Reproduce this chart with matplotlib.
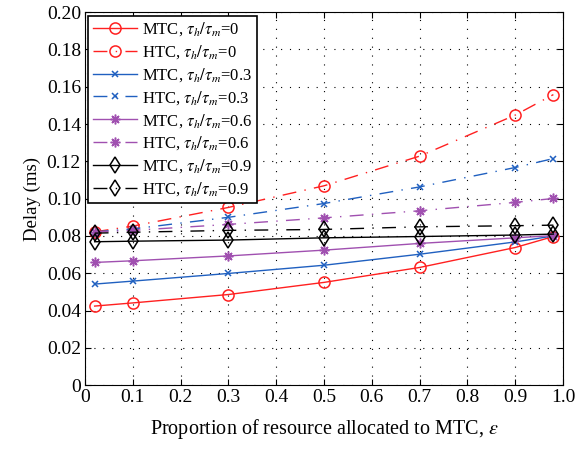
import matplotlib
matplotlib.use('Agg')
from matplotlib import pyplot as plt

plt.rcParams['font.family'] = ['Liberation Serif', 'DejaVu Serif']
plt.rcParams['mathtext.fontset'] = 'stix'

eps = [0.02, 0.1, 0.3, 0.5, 0.7, 0.9, 0.98]

mtc_0 = [0.0424, 0.0441, 0.0486, 0.0551, 0.0631, 0.0738, 0.0797]
htc_0 = [0.0822, 0.0853, 0.0953, 0.1069, 0.1228, 0.1448, 0.1558]
mtc_3 = [0.0542, 0.0558, 0.0599, 0.0643, 0.0702, 0.0768, 0.0800]
htc_3 = [0.0822, 0.0838, 0.0900, 0.0974, 0.1063, 0.1167, 0.1215]
mtc_6 = [0.0658, 0.0667, 0.0693, 0.0724, 0.0760, 0.0790, 0.0802]
htc_6 = [0.0822, 0.0830, 0.0862, 0.0897, 0.0935, 0.0980, 0.1001]
mtc_9 = [0.0769, 0.0772, 0.0778, 0.0790, 0.0797, 0.0805, 0.0810]
htc_9 = [0.0815, 0.0820, 0.0830, 0.0835, 0.0849, 0.0855, 0.0858]

ratios = ['0', '0.3', '0.6', '0.9']
colors = ['#ff2020', '#2060c0', '#a050b0', '#000000']
markers = ['o', 'x', (8, 2, 0), 'd']
sizes = [8, 5, 7, 8.5]
mtc = [mtc_0, mtc_3, mtc_6, mtc_9]
htc = [htc_0, htc_3, htc_6, htc_9]

fig = plt.figure(figsize=(5.75, 4.51), dpi=100)
ax = fig.add_axes([0.148, 0.146, 0.831, 0.827])

for r, c, m, s, ym, yh in zip(ratios, colors, markers, sizes, mtc, htc):
    kw = dict(color=c, marker=m, markersize=s, markerfacecolor='none',
              markeredgewidth=1.1, linewidth=1)
    ax.plot(eps, ym, '-', label=r'MTC, $\tau_h/\tau_m$=' + r, **kw)
    ax.plot(eps, yh, '-.', dashes=(10, 6, 1, 6), label=r'HTC, $\tau_h/\tau_m$=' + r, **kw)

ax.set_xlim(0, 1.0)
ax.set_ylim(0, 0.2)
ax.set_xticks([0, 0.1, 0.2, 0.3, 0.4, 0.5, 0.6, 0.7, 0.8, 0.9, 1.0])
ax.set_xticklabels(['0', '0.1', '0.2', '0.3', '0.4', '0.5', '0.6', '0.7', '0.8', '0.9', '1.0'])
ax.set_yticks([0, 0.02, 0.04, 0.06, 0.08, 0.10, 0.12, 0.14, 0.16, 0.18, 0.20])
ax.set_yticklabels(['0', '0.02', '0.04', '0.06', '0.08', '0.10', '0.12', '0.14', '0.16', '0.18', '0.20'])
ax.tick_params(direction='in', top=True, right=True, labelsize=14, length=4, pad=3)
ax.grid(True, linestyle=':', color='black', linewidth=0.8, dashes=(1, 7))
ax.set_xlabel(r'Proportion of resource allocated to MTC, $\varepsilon$', fontsize=14.5, labelpad=8)
ax.set_ylabel('Delay (ms)', fontsize=13.5)

leg = ax.legend(loc='upper left', fontsize=12, fancybox=False, framealpha=1,
                edgecolor='black', borderaxespad=0.2, handlelength=2.6,
                labelspacing=0.3, handletextpad=0.3, borderpad=0.3)
leg.get_frame().set_linewidth(1.2)

fig.savefig('out.png', dpi=100)
